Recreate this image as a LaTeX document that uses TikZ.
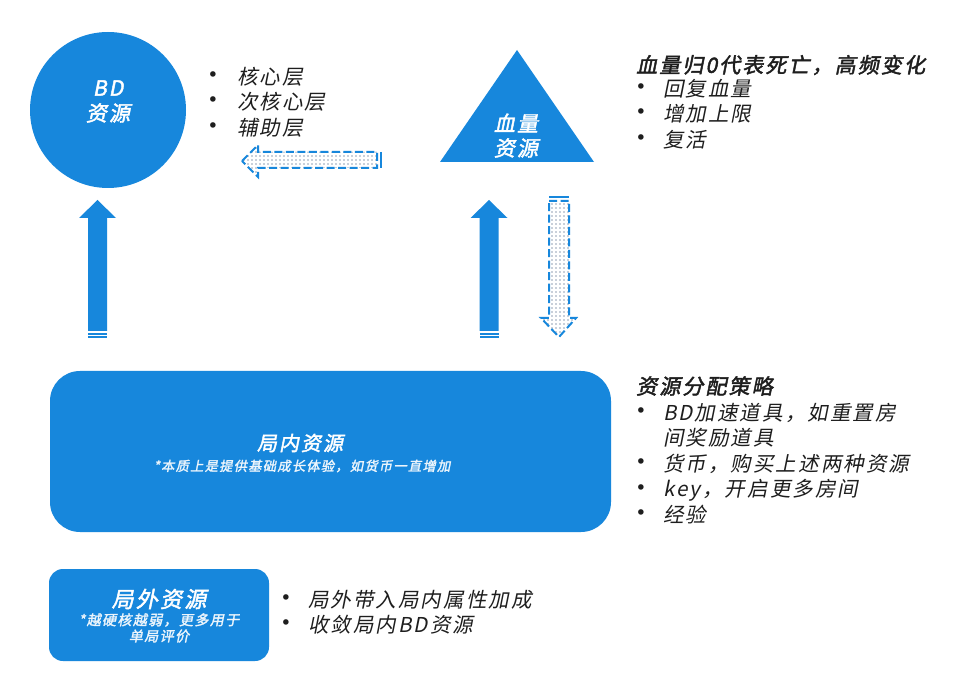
\documentclass[tikz,border=0pt]{standalone}
\usepackage{fontspec}
\usetikzlibrary{patterns}
\newfontfamily\cjk[FakeSlant=0.2,LetterSpace=10]{Noto Sans CJK SC}
\newfontfamily\cjkb[FakeSlant=0.2,LetterSpace=10,FakeBold=2]{Noto Sans CJK SC}
\newfontfamily\dvs{DejaVu Sans}
\definecolor{bdblue}{HTML}{1787DC}
\definecolor{txt}{HTML}{1E1E1E}
\definecolor{dotc}{HTML}{173660}
\pgfdeclarepatternformonly{bigdots}{\pgfqpoint{-1pt}{-1pt}}{\pgfqpoint{1pt}{1pt}}{\pgfqpoint{4pt}{4pt}}{%
  \pgfpathcircle{\pgfqpoint{0pt}{0pt}}{0.65pt}\pgfusepath{fill}}
\begin{document}
\begin{tikzpicture}[x=1pt,y=-1pt,
  tx/.style={font=\cjk\fontsize{20.5}{24}\selectfont, text=txt, anchor=west, inner sep=0pt},
  ttl/.style={font=\cjkb\fontsize{21}{24}\selectfont, text=txt, anchor=west, inner sep=0pt},
  bul/.style={font=\dvs\fontsize{19}{19}\selectfont, text=txt, inner sep=0pt},
  wt/.style={font=\cjkb\fontsize{21}{24}\selectfont, text=white, inner sep=0pt},
  ws/.style={font=\cjkb\fontsize{13.2}{16}\selectfont, text=white!92!bdblue, inner sep=0pt},
  dashline/.style={draw=bdblue, line width=2pt, dash pattern=on 8pt off 3.5pt},
  dotfill/.style={pattern=bigdots, pattern color=dotc}]
\useasboundingbox (0,0) rectangle (964,692);
\fill[white] (0,0) rectangle (964,692);

% BD circle
\node[circle, fill=bdblue, minimum size=156pt, inner sep=0pt] (bd) at (108,110) {};
\node[wt] (bdt1) at (108,88) {BD};
\node[wt] (bdt2) at (108,113) {资源};

% list 1
\foreach \yy/\tt [count=\i] in {77/核心层,102/次核心层,128/辅助层}{
  \node[bul] (b1\i) at (213,\yy) {•};
  \node[tx] (l1\i) at (237,\yy) {\tt};
}

% dotted left arrow
\path[dotfill] (242,161) -- (258,145) -- (258,152) -- (377,152) -- (377,168) -- (258,168) -- (258,177) -- cycle;
\draw[dashline] (242,161) -- (258,145) -- (258,152) -- (377,152) -- (377,168) -- (258,168) -- (258,177) -- cycle;
\draw[bdblue, line width=2pt] (381,152) -- (381,168);

% triangle
\coordinate (ta) at (517,50);
\coordinate (tl) at (440,162);
\coordinate (tr) at (594,162);
\fill[bdblue] (ta) -- (tr) -- (tl) -- cycle;
\node[wt] (tt1) at (516,123) {血量};
\node[wt] (tt2) at (516,148) {资源};

% list 2
\node[ttl] (h2) at (636,65) {血量归0代表死亡，高频变化};
\foreach \yy/\tt [count=\i] in {89/回复血量,114/增加上限,140/复活}{
  \node[bul] (b2\i) at (641,\yy) {•};
  \node[tx] (l2\i) at (663,\yy) {\tt};
}

% up arrows
\foreach \cx in {97.5,489}{
  \fill[bdblue] (\cx-9.5,331) -- (\cx-9.5,218) -- (\cx-18.5,218) -- (\cx,200) -- (\cx+18.5,218) -- (\cx+9.5,218) -- (\cx+9.5,331) -- cycle;
  \fill[bdblue] (\cx-9.5,333.3) rectangle (\cx+9.5,334.8);
  \fill[bdblue] (\cx-9.5,336.3) rectangle (\cx+9.5,337.8);
}

% dotted down arrow
\path[dotfill] (549,201) -- (569,201) -- (569,318) -- (576,318) -- (559,337) -- (541,318) -- (549,318) -- cycle;
\draw[dashline] (549,201) -- (569,201) -- (569,318) -- (576,318) -- (559,337) -- (541,318) -- (549,318) -- cycle;
\draw[bdblue, line width=2pt] (549,197) -- (569,197);

% inner resources box
\node[fill=bdblue, rounded corners=30pt, minimum width=561pt, minimum height=161pt, inner sep=0pt] (inner) at (330.5,451.5) {};
\node[wt, font=\cjkb\fontsize{20}{24}\selectfont] (it1) at (300,443) {局内资源};
\node[ws] (it2) at (302,466) {*本质上是提供基础成长体验，如货币一直增加};

% list 3
\node[ttl] (h3) at (636,386) {资源分配策略};
\node[bul] (b31) at (641,413) {•};
\node[tx] (l31) at (663,413) {BD加速道具，如重置房};
\node[tx] (l32) at (663,438) {间奖励道具};
\node[bul] (b33) at (641,464) {•};
\node[tx] (l33) at (663,464) {货币，购买上述两种资源};
\node[bul] (b34) at (641,490) {•};
\node[tx] (l34) at (663,490) {key，开启更多房间};
\node[bul] (b35) at (641,515) {•};
\node[tx] (l35) at (663,515) {经验};

% outer resources box
\node[fill=bdblue, rounded corners=14pt, minimum width=220pt, minimum height=92pt, inner sep=0pt] (outer) at (159,615) {};
\node[wt, font=\cjkb\fontsize{22}{24}\selectfont] (ot1) at (159,599) {局外资源};
\node[ws, font=\cjkb\fontsize{14}{16}\selectfont] (ot2) at (159,620) {*越硬核越弱，更多用于};
\node[ws, font=\cjkb\fontsize{14}{16}\selectfont] (ot3) at (159,636) {单局评价};

% list 4
\node[bul] (b41) at (286,600) {•};
\node[tx] (l41) at (308,600) {局外带入局内属性加成};
\node[bul] (b42) at (286,625) {•};
\node[tx] (l42) at (308,625) {收敛局内BD资源};
\end{tikzpicture}
\end{document}
